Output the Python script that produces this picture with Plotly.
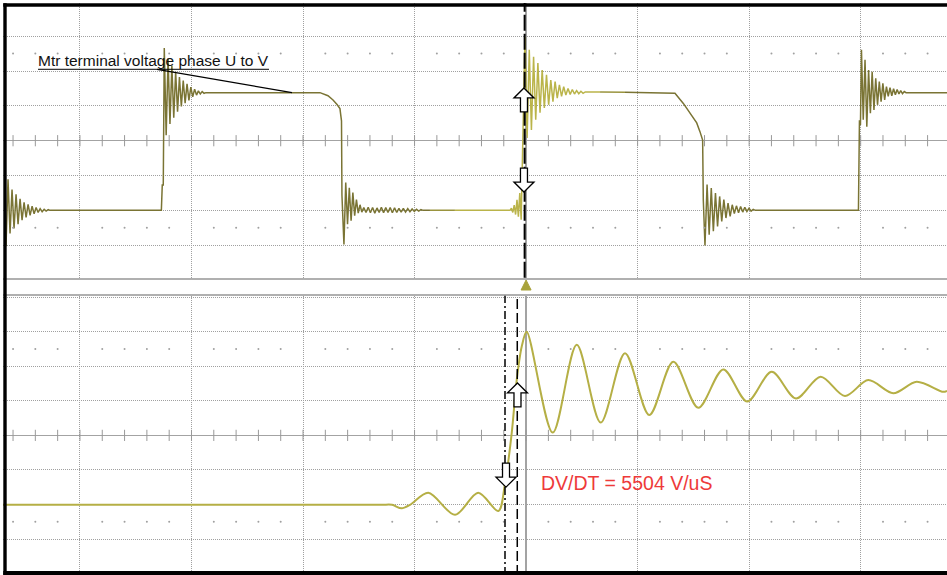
import numpy as np
import plotly.graph_objects as go

# ---------------- DATA ----------------
# Time axis in horizontal divisions relative to the trigger, amplitude in vertical divisions.
TOP_LOW = -2.0
TOP_HIGH = 1.38

# Ringing bursts on the upper trace: start time, half period, peak deviations from the settled level
A_START, A_HP = -4.663, 0.018
A_DEVS = [-1.03, 0.89, -0.66, 0.60, -0.52, 0.46, -0.40, 0.33, -0.28, 0.23, -0.20, 0.17,
          -0.14, 0.12, -0.10, 0.08, -0.06, 0.05, -0.04, 0.03, -0.02, 0.02, 0.0]
B_START, B_HP = -3.244, 0.017
B_DEVS = [1.28, -1.22, 0.98, -0.90, 0.78, -0.72, 0.60, -0.55, 0.45, -0.40, 0.35, -0.30,
          0.25, -0.22, 0.16, -0.12, 0.10, -0.07, 0.05, -0.04, 0.03, -0.02, 0.0]
C_START, C_HP = -1.633, 0.016
C_DEVS = [-0.98, 0.80, -0.40, 0.65, -0.30, 0.51, -0.15, 0.31, -0.08, 0.16, -0.05]
C_RIP_START, C_RIP_HP = -1.455, 0.0197
C_RIPPLE = [0.08, -0.06, 0.09, -0.07, 0.08, -0.08, 0.07, -0.06, 0.09, -0.07, 0.08, -0.06,
            0.08, -0.07, 0.07, -0.06, 0.06, -0.05, 0.06, -0.05, 0.05, -0.04, 0.04, -0.03,
            0.03, -0.02, 0.02, 0.0]
P_START, P_HP = -0.144, 0.0125
P_DEVS = [0.0, 0.06, -0.06, 0.15, -0.12, 0.30, -0.18, 0.50, -0.27]
D_START, D_HP = -0.010, 0.0193
D_DEVS = [1.60, -1.30, 1.23, -1.07, 1.03, -0.78, 0.85, -0.58, 0.65, -0.44, 0.51, -0.35,
          0.36, -0.26, 0.32, -0.16, 0.22, -0.11, 0.17, -0.07, 0.12, -0.05, 0.09, -0.04,
          0.06, -0.03, 0.04, -0.02, 0.02]
E_START, E_HP = 1.604, 0.0188
E_DEVS = [-1.01, 0.74, -0.70, 0.64, -0.60, 0.50, -0.46, 0.40, -0.32, 0.31, -0.22, 0.21,
          -0.17, 0.16, -0.09, 0.13, -0.07, 0.11, -0.05, 0.09, -0.03, 0.06, -0.02, 0.03, 0.0]
F_START, F_HP = 3.007, 0.016
F_DEVS = [1.23, -0.78, 0.94, -0.98, 0.65, -0.59, 0.60, -0.50, 0.41, -0.35, 0.32, -0.26,
          0.27, -0.21, 0.17, -0.11, 0.14, -0.09, 0.11, -0.06, 0.09, -0.04, 0.06, -0.03,
          0.03, 0.0]

# Edge vertices of the upper trace
RISE1_T = [-3.270, -3.262, -3.253]
RISE1_V = [-2.0, -1.27, -1.27]
FALL1_T = [-1.848, -1.776, -1.731, -1.695, -1.669, -1.655, -1.651]
FALL1_V = [1.38, 1.29, 1.17, 1.04, 0.92, 0.57, -1.56]
FALL2_T = [1.317, 1.335, 1.410, 1.485, 1.530, 1.559, 1.583, 1.589]
FALL2_V = [1.38, 1.36, 1.07, 0.74, 0.51, 0.26, 0.02, -1.70]
RISE3_T = [2.980, 2.989, 2.998]
RISE3_V = [-2.0, 0.59, 0.45]
END_T, END_V = 3.774, 1.38

# Lower trace (zoomed edge): baseline, peaks, troughs and edge vertices
BOT_T = [-4.69, -2.50, -1.30, -1.202, -1.117, -1.041, -0.877, -0.637, -0.429, -0.249, -0.189,
         -0.129, -0.084, -0.039, 0.005, 0.239, 0.454, 0.669, 0.887, 1.105, 1.320, 1.544,
         1.768, 1.983, 2.202, 2.420, 2.641, 2.859, 3.068, 3.292, 3.502, 3.741, 3.774]
BOT_V = [-2.01, -2.01, -2.01, -2.01, -2.11, -2.01, -1.66, -2.30, -1.66, -2.19, -1.39,
         0.06, 1.60, 2.57, 3.00, 0.08, 2.62, 0.37, 2.38, 0.59, 2.13, 0.80,
         1.91, 0.98, 1.84, 1.07, 1.70, 1.14, 1.60, 1.22, 1.55, 1.26, 1.29]

TOP_LABEL = "Mtr terminal voltage phase U to V"
DVDT_LABEL = "DV/DT = 5504 V/uS"

# Cursors
TOP_CURSOR_T = -0.013
BOT_CURSOR1_T = -0.189
BOT_CURSOR2_T = -0.079

# ---------------- BUILD ----------------
def ring(t0, hp, base, devs):
    return [t0 + i * hp for i in range(len(devs))], [base + d for d in devs]

pieces = [
    ring(A_START, A_HP, TOP_LOW, A_DEVS),
    (RISE1_T, RISE1_V),
    ring(B_START, B_HP, TOP_HIGH, B_DEVS),
    (FALL1_T, FALL1_V),
    ring(C_START, C_HP, TOP_LOW, C_DEVS),
    ring(C_RIP_START, C_RIP_HP, TOP_LOW, C_RIPPLE),
    ring(P_START, P_HP, TOP_LOW, P_DEVS),
    ring(D_START, D_HP, TOP_HIGH, D_DEVS),
    (FALL2_T, FALL2_V),
    ring(E_START, E_HP, TOP_LOW, E_DEVS),
    (RISE3_T, RISE3_V),
    ring(F_START, F_HP, TOP_HIGH, F_DEVS),
    ([END_T], [END_V]),
]
top_t = np.concatenate([np.asarray(p[0], float) for p in pieces])
top_v = np.concatenate([np.asarray(p[1], float) for p in pieces])

# colour bands (persistence shading near the trigger)
bounds = [-0.862, -0.638, 0.663, 0.887]
band_cols = ['#7a7434', '#9a943e', '#bab44a', '#9a943e', '#7a7434']
edges = [top_t[0] - 1] + bounds + [top_t[-1] + 1]

fig = go.Figure()
for k in range(len(band_cols)):
    lo, hi = edges[k], edges[k + 1]
    m = (top_t > lo) & (top_t < hi)
    tt = list(top_t[m]); vv = list(top_v[m])
    if k > 0:
        tt = [lo] + tt; vv = [float(np.interp(lo, top_t, top_v))] + vv
    if k < len(band_cols) - 1:
        tt = tt + [hi]; vv = vv + [float(np.interp(hi, top_t, top_v))]
    fig.add_trace(go.Scatter(x=tt, y=vv, mode='lines', xaxis='x', yaxis='y',
                             line=dict(color=band_cols[k], width=1.5), hoverinfo='skip'))

fig.add_trace(go.Scatter(x=BOT_T, y=BOT_V, mode='lines', xaxis='x2', yaxis='y2',
                         line=dict(color='#b5af45', width=2, shape='spline', smoothing=0.9),
                         hoverinfo='skip'))

# graticule decorations: minor ticks on centre lines, dot rows
minor = np.round(np.arange(-4.6, 3.71, 0.2), 3)
for xa, ya in (('x', 'y'), ('x2', 'y2')):
    fig.add_trace(go.Scatter(x=minor, y=np.zeros_like(minor), mode='markers', xaxis=xa, yaxis=ya,
                             marker=dict(symbol='line-ns', size=8, line=dict(color='#999999', width=1)),
                             hoverinfo='skip'))
    dots = minor[np.abs(minor - np.round(minor)) > 0.01]
    fig.add_trace(go.Scatter(x=np.concatenate([dots, dots]),
                             y=np.concatenate([np.full(len(dots), 2.5), np.full(len(dots), -2.5)]),
                             mode='markers', xaxis=xa, yaxis=ya,
                             marker=dict(symbol='circle', size=2, color='#a0a0a0'), hoverinfo='skip'))

W, H = 947, 575
XR = [-4.690, 3.774]
ax_common = dict(dtick=1, tick0=0, showticklabels=False, ticks='', showgrid=True,
                 gridcolor='#a0a0a0', griddash='1px,1px', gridwidth=1,
                 zeroline=True, zerolinecolor='#a3a3a3', zerolinewidth=1.5, fixedrange=True)

fig.update_layout(
    width=W, height=H, margin=dict(l=0, r=0, t=0, b=0),
    paper_bgcolor='white', plot_bgcolor='white', showlegend=False,
    xaxis=dict(domain=[3 / W, 1], range=XR, anchor='y', showline=True,
               linecolor='#b0b0b0', linewidth=2, **ax_common),
    yaxis=dict(domain=[1 - 277.7 / H, 1 - 3 / H], range=[-3.933, 3.953], anchor='x', **ax_common),
    xaxis2=dict(domain=[3 / W, 1], range=XR, anchor='y2', side='top', showline=True,
                linecolor='#b0b0b0', linewidth=2, **ax_common),
    yaxis2=dict(domain=[0, 1 - 295.7 / H], range=[-4.041, 4.043], anchor='x2', **ax_common),
)

font_family = 'Liberation Sans, Arial, sans-serif'
shapes = []
# cursors
shapes.append(dict(type='line', xref='x', yref='y domain', x0=TOP_CURSOR_T, x1=TOP_CURSOR_T, y0=0, y1=1,
                   line=dict(color='black', width=2, dash='16px,3px')))
shapes.append(dict(type='line', xref='x2', yref='y2 domain', x0=BOT_CURSOR1_T, x1=BOT_CURSOR1_T, y0=0, y1=1,
                   line=dict(color='black', width=1.5, dash='8px,3px,2px,3px')))
shapes.append(dict(type='line', xref='x2', yref='y2 domain', x0=BOT_CURSOR2_T, x1=BOT_CURSOR2_T, y0=0, y1=1,
                   line=dict(color='black', width=1.5, dash='10px,4px')))

UP = "M 0,12 L 10,2 L 3.5,2 L 3.5,-12 L -3.5,-12 L -3.5,2 L -10,2 Z"
DOWN = "M 0,-12 L 10,-2 L 3.5,-2 L 3.5,12 L -3.5,12 L -3.5,-2 L -10,-2 Z"
for path, xr, yr, xa, ya in ((UP, 'x', 'y', -0.019, 1.17), (DOWN, 'x', 'y', -0.019, -1.13),
                             (UP, 'x2', 'y2', -0.077, 1.17), (DOWN, 'x2', 'y2', -0.180, -1.15)):
    shapes.append(dict(type='path', xref=xr, yref=yr, xsizemode='pixel', ysizemode='pixel',
                       xanchor=xa, yanchor=ya, path=path, fillcolor='white',
                       line=dict(color='black', width=1.3)))

# trigger marker
shapes.append(dict(type='path', xref='x', yref='paper', xsizemode='pixel', ysizemode='pixel',
                   xanchor=0, yanchor=1 - 285 / H, path="M -5,-5 L 5,-5 L 0,5 Z",
                   fillcolor='#a8a23a', line=dict(color='#a8a23a', width=1)))

# label underline and pointer
shapes.append(dict(type='line', xref='x', yref='y', x0=-4.376, x1=-2.305, y0=2.05, y1=2.05,
                   line=dict(color='black', width=1)))
shapes.append(dict(type='line', xref='x', yref='y', x0=-3.309, x1=-2.099, y0=2.05, y1=1.378,
                   line=dict(color='black', width=1.2)))

# black frame
def prect(x0, x1, y0, y1):
    return dict(type='rect', xref='paper', yref='paper', x0=x0 / W, x1=x1 / W,
                y0=1 - y1 / H, y1=1 - y0 / H, fillcolor='black', line=dict(width=0))
shapes += [prect(3.3, 6.7, 3.3, 575), prect(3.3, 947, 3.3, 6.7), prect(3.3, 947, 571, 575)]

fig.update_layout(shapes=shapes)

fig.add_annotation(x=-4.376, y=2.30, xref='x', yref='y', text=TOP_LABEL, showarrow=False,
                   xanchor='left', yanchor='middle', xshift=-2,
                   font=dict(family=font_family, size=15.5, color='#111111'))
fig.add_annotation(x=0.131, y=-1.37, xref='x2', yref='y2', text=DVDT_LABEL, showarrow=False,
                   xanchor='left', yanchor='middle', xshift=-2,
                   font=dict(family=font_family, size=19.5, color='#ee3a3a'))

fig.write_html("out.html", config={'displayModeBar': False, 'staticPlot': True},
               post_script="document.body.style.margin='0';document.body.style.overflow='hidden';")
